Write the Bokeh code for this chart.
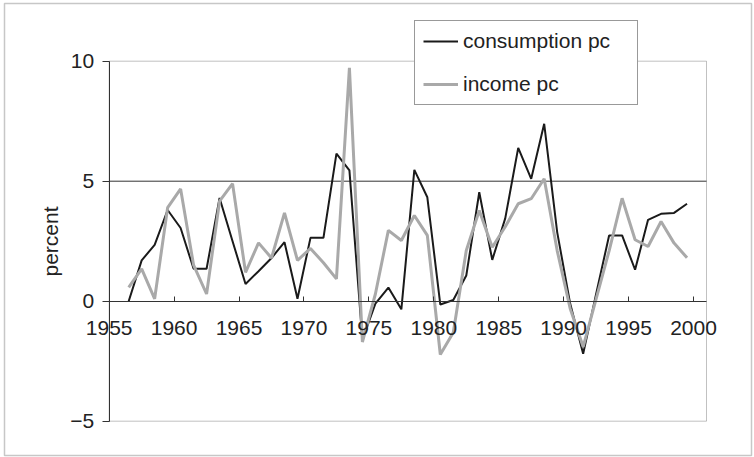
from bokeh.plotting import figure
from bokeh.models import (ColumnDataSource, FixedTicker, Legend, LegendItem,
                          LinearAxis, BoxAnnotation, Range1d)
from bokeh.transform import dodge
from bokeh.embed import file_html
from bokeh.resources import INLINE

years = list(range(1956, 2000))
consumption_pc = [0.0, 1.7, 2.35, 3.8, 3.05, 1.35, 1.35, 4.3, 2.5, 0.72,
                  1.25, 1.8, 2.46, 0.1, 2.64, 2.64, 6.15, 5.45, -1.6, -0.1,
                  0.57, -0.34, 5.47, 4.33, -0.14, 0.05, 1.07, 4.54, 1.72, 3.45,
                  6.39, 5.1, 7.39, 2.88, -0.1, -2.19, 0.3, 2.74, 2.74, 1.31,
                  3.39, 3.64, 3.68, 4.06]
income_pc = [0.58, 1.35, 0.1, 3.9, 4.68, 1.5, 0.3, 4.17, 4.9, 1.2,
             2.43, 1.8, 3.68, 1.7, 2.2, 1.6, 0.93, 9.72, -1.7, 0.3,
             2.95, 2.53, 3.57, 2.74, -2.22, -1.3, 2.11, 3.78, 2.25, 3.1,
             4.06, 4.27, 5.1, 2.11, -0.3, -1.9, 0.1, 2.1, 4.29, 2.56,
             2.28, 3.32, 2.42, 1.81]
x_ticks = [1955, 1960, 1965, 1970, 1975, 1980, 1985, 1990, 1995, 2000]
y_ticks = [-5, 0, 5, 10]
grid_levels = [5]
series_names = ["consumption pc", "income pc"]

# axis extents of the chart area
X_MIN, X_MAX = 1955, 2001
Y_MIN, Y_MAX = -5, 10

# layout (pixels): canvas and where the chart area sits on it
W, H = 754, 457
PX_L, PX_R, PX_T, PX_B = 108.7, 706.0, 60.7, 420.7
sx = (X_MAX - X_MIN) / (PX_R - PX_L)
sy = (Y_MAX - Y_MIN) / (PX_B - PX_T)

FONT = "Liberation Sans"
TXT = "#222222"
LINE = "#333333"

src = ColumnDataSource(dict(year=years, cons=consumption_pc, inc=income_pc))
grid_src = ColumnDataSource(dict(y=grid_levels))

p = figure(width=W, height=H, output_backend="svg", toolbar_location=None,
           x_axis_location=None, y_axis_location=None,
           x_range=Range1d(X_MIN - PX_L * sx, X_MAX + (W - PX_R) * sx),
           y_range=Range1d(Y_MIN - (H - PX_B) * sy, Y_MAX + PX_T * sy),
           min_border=0)
p.min_border_left = p.min_border_right = 0
p.min_border_top = p.min_border_bottom = 0
p.background_fill_color = "white"
p.border_fill_color = "white"
p.outline_line_color = None
p.grid.visible = False

# horizontal gridline at 5
p.segment(x0=X_MIN, x1=X_MAX, y0="y", y1="y", source=grid_src,
          line_color=LINE, line_width=1)

# series (mid-year positions)
r_cons = p.line(x=dodge("year", 0.5), y="cons", source=src,
                line_color="#1a1a1a", line_width=2)
r_inc = p.line(x=dodge("year", 0.5), y="inc", source=src,
               line_color="#a9a9a9", line_width=3)

# chart area rectangle
p.add_layout(BoxAnnotation(left=X_MIN, right=X_MAX, bottom=Y_MIN, top=Y_MAX,
                           fill_alpha=0, line_color=LINE, line_width=1))

# x axis on the zero line
xa = LinearAxis(fixed_location=0, bounds=(X_MIN, X_MAX),
                ticker=FixedTicker(ticks=x_ticks))
xa.minor_tick_line_color = None
xa.major_tick_in = 5
xa.major_tick_out = 0
xa.major_label_standoff = 20
xa.axis_line_color = LINE
xa.major_tick_line_color = LINE
xa.major_label_text_font = FONT
xa.major_label_text_font_size = "21px"
xa.major_label_text_color = TXT
p.add_layout(xa, "below")

# y axis at 1955
ya = LinearAxis(fixed_location=X_MIN, bounds=(Y_MIN, Y_MAX),
                ticker=FixedTicker(ticks=y_ticks))
ya.minor_tick_line_color = None
ya.major_tick_in = 0
ya.major_tick_out = 7
ya.major_label_standoff = 8
ya.axis_line_color = LINE
ya.major_tick_line_color = LINE
ya.major_label_text_font = FONT
ya.major_label_text_font_size = "21px"
ya.major_label_text_color = TXT
ya.axis_label = "percent"
ya.axis_label_text_font = FONT
ya.axis_label_text_font_size = "21px"
ya.axis_label_text_font_style = "normal"
ya.axis_label_text_color = TXT
ya.axis_label_standoff = 6
p.add_layout(ya, "left")

legend = Legend(items=[LegendItem(label=series_names[0], renderers=[r_cons]),
                       LegendItem(label=series_names[1], renderers=[r_inc])],
                location=(414, H - 105), orientation="vertical", margin=0,
                padding=8, spacing=19, glyph_width=35, glyph_height=20,
                label_standoff=5, label_height=22, label_width=166,
                label_text_font=FONT, label_text_font_size="21px",
                label_text_color=TXT,
                border_line_color=LINE, border_line_width=1.5,
                background_fill_color="white", background_fill_alpha=1.0)
p.add_layout(legend, "center")

# outer border of the whole chart
p.add_layout(BoxAnnotation(left=4, right=751, top=3, bottom=455,
                           left_units="canvas", right_units="canvas",
                           top_units="canvas", bottom_units="canvas",
                           fill_alpha=0, line_color="#444444", line_width=1.5,
                           level="overlay"))

open("out.html", "w").write(file_html(p, INLINE))
